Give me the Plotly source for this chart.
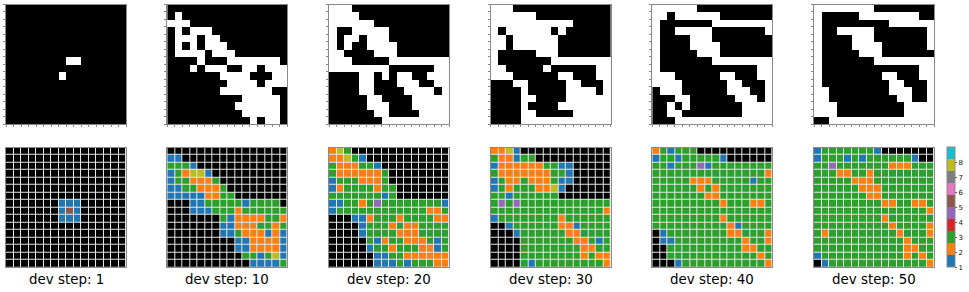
import plotly.graph_objects as go

W, H = 969, 292

steps = [1, 10, 20, 30, 40, 50]

# Binary states (top row): '#' = alive, '.' = dead
mask_1 = ["................"] * 7 + ["........##......", "................", ".......#........"] + ["................"] * 6
mask_10 = ["................", ".#..............", "###.............", ".#.###..........",
           ".###.##.........", ".#.#.###........", ".####.###.......", "....#...#######.",
           "...#.###..##.###", ".......####...##", "........####.###", ".......#######..",
           "..........#####.", ".........######.", "..........#####.", "...........#.##."]
mask_20 = ["###.............", "####............", "######..........", "#..#####........",
           "#.##.###........", "#.#..####.......", "##....###.......", "###.....########",
           "########......##", "....##.#.##..###", "....##...###..##", "....##....####.#",
           ".....##....#####", ".....###...#####", "......##....####", ".......#########"]
mask_30 = ["###.............", "######..........", "###########.....", "#.######.#......",
           "##.######.......", "##.######.......", "#.....###.......", "#.......########",
           "##.....#......##", "###......##...##", "...##.....##...#", "....#.....####.#",
           "....##....######", "....#....#######", "....##.....#####", "....############"]
mask_40 = ["######..........", "##.######.......", "#.......########", "#..#####.......#",
           "#....###........", "#....####.......", "#.....###.......", "#.......########",
           "#.............##", "###......##...##", "####......##...#", ".###......###..#",
           "...##......###.#", "..#.#.......####", "..##........####", "...#############"]
mask_50 = ["########........", "#.....########..", "#.........######", "#..#####.......#",
           "#....###.......#", "#....####......#", "#.....###.......", "#.......########",
           "#.............##", "#........##...##", "#.........##...#", "##........###..#",
           "##.........##..#", "###.........####", "###.........####", "..##############"]

# Cell states (bottom row): '.' = empty, digit = state, 'p' = the purple band
state_1 = ["................"] * 7 + [".......111......", ".......151......", ".......111......"] + ["................"] * 6
state_10 = ["................", "11..............", "3331............", "132881..........",
            "1332223.........", "11332223........", "111112233.......", "...113333313333.",
            "...1113332333333", ".......312222332", ".......112223323", ".......113222121",
            ".........1122221", ".........1122221", "..........331381", "...........11113"]
state_20 = ["283.............", "22831...........", "3222331.........", "32222223........",
            "13332223........", "123333233.......", "333333313.......", "113323p333333331",
            "1333333333333223", "...1123332333322", "....133323223333", "....133332223333",
            ".....31233222313", ".....13323332213", "......1133222222", "......1113133322"]
state_30 = ["2281............", "322133..........", "12222223311.....", "32222222331.....",
            "13223222311.....", "1323332281......", "331333333.......", "3p3p333333333333",
            "3333333333333332", "1333333332333333", "..13333332213333", "...1333333223333",
            "....333333322313", "....333333332233", "....333333332322", "....313333333332"]
state_40 = ["231333..........", "1331333331......", "331333p133333333", "3333333333333332",
            "3333322233333133", "3333332323333333", "3333333223333333", "3333333332333223",
            "3333333333333333", "3333333332333333", "3333333333213333", ".133333333223332",
            ".113333333332332", "..33333333332233", "..33333333333323", "...1333333333332"]
state_50 = ["133333331.......", "13331313333331..", "33p3333333222333", "3332233233333333",
            "3333322233333333", "3333332223333333", "3333333223333333", "3333333332233223",
            "3333333333333332", "3333333332333333", "3333333333233332", "3233333333323332",
            "3333333333332333", "3333333333332233", "1333333333332323", ".133333333333332"]

masks = [mask_1, mask_10, mask_20, mask_30, mask_40, mask_50]
states = [state_1, state_10, state_20, state_30, state_40, state_50]
state_value = {"1": 1, "2": 2, "3": 3, "5": 5, "8": 8, "p": 4.5}

tab10 = ["#1f77b4", "#ff7f0e", "#2ca02c", "#d62728", "#9467bd",
         "#8c564b", "#e377c2", "#7f7f7f", "#bcbd22", "#17becf"]
discrete = []
for i, c in enumerate(tab10):
    discrete += [[i / 10, c], [(i + 1) / 10, c]]

panel_left = [6.0, 167.3, 329.0, 490.7, 652.3, 814.0]
panel_w = 120.0
top_y = (4.5, 124.3)
bot_y = (147.7, 267.4)
spine = "#8a8a8a"

fig = go.Figure()
layout = {}
n = 16
cells = list(range(n))


def add_axes(idx, left, ypx, ticks):
    xa = dict(domain=[left / W, (left + panel_w) / W], range=[-0.5, 15.5], showgrid=False, zeroline=False,
              showticklabels=False, showline=True, linecolor=spine, linewidth=1, mirror=True,
              ticks="outside" if ticks else "", ticklen=2, tickcolor=spine, tickwidth=1,
              tickmode="array", tickvals=[c - 0.5 for c in range(n + 1)], anchor=f"y{idx}")
    ya = dict(domain=[1 - ypx[1] / H, 1 - ypx[0] / H], range=[15.5, -0.5], showgrid=False, zeroline=False,
              showticklabels=False, showline=True, linecolor=spine, linewidth=1, mirror=True,
              ticks="outside" if ticks else "", ticklen=2, tickcolor=spine, tickwidth=1,
              tickmode="array", tickvals=[c - 0.5 for c in range(n + 1)], anchor=f"x{idx}")
    layout[f"xaxis{idx}"] = xa
    layout[f"yaxis{idx}"] = ya


for p in range(6):
    assert all(len(r) == n for r in masks[p]) and len(masks[p]) == n
    assert all(len(r) == n for r in states[p]) and len(states[p]) == n
    ti, bi = 2 * p + 1, 2 * p + 2
    add_axes(ti, panel_left[p], top_y, True)
    add_axes(bi, panel_left[p], bot_y, False)

    fig.add_trace(go.Heatmap(z=[[1 if ch == "#" else 0 for ch in r] for r in masks[p]], x=cells, y=cells,
                             zmin=0, zmax=1, colorscale=[[0, "#000000"], [1, "#ffffff"]],
                             showscale=False, xaxis=f"x{ti}", yaxis=f"y{ti}", hoverinfo="skip"))
    # empty cells in black
    fig.add_trace(go.Heatmap(z=[[1 if ch == "." else None for ch in r] for r in states[p]], x=cells, y=cells,
                             zmin=0, zmax=1, colorscale=[[0, "#000000"], [1, "#000000"]],
                             showscale=False, xgap=1, ygap=1, xaxis=f"x{bi}", yaxis=f"y{bi}", hoverinfo="skip"))
    # coloured cells
    show = p == 5
    fig.add_trace(go.Heatmap(z=[[state_value.get(ch) for ch in r] for r in states[p]], x=cells, y=cells,
                             zmin=1, zmax=9, colorscale=discrete, showscale=show, xgap=1, ygap=1,
                             xaxis=f"x{bi}", yaxis=f"y{bi}",
                             colorbar=dict(x=947.3 / W, xanchor="left", xpad=0, y=1 - bot_y[1] / H, yanchor="bottom",
                                           ypad=0, len=(bot_y[1] - bot_y[0]) / H, lenmode="fraction",
                                           thickness=8, thicknessmode="pixels", outlinecolor=spine, outlinewidth=1,
                                           tickmode="array", tickvals=list(range(1, 9)), ticks="outside", ticklen=2,
                                           tickcolor="#555555", tickwidth=1,
                                           tickfont=dict(family="DejaVu Sans", size=7, color="#111111"))))

annotations = [dict(text=f"dev step: {s}", x=(panel_left[i] + panel_w / 2) / W, y=1 - 279.5 / H,
                    xref="paper", yref="paper", xanchor="center", yanchor="middle", showarrow=False,
                    font=dict(family="DejaVu Sans", size=13.4, color="#000000"))
               for i, s in enumerate(steps)]

fig.update_layout(width=W, height=H, margin=dict(l=0, r=0, t=0, b=0), paper_bgcolor="#ffffff",
                  plot_bgcolor="#e6e6e6", annotations=annotations, showlegend=False, **layout)

fig.write_html("out.html", config={"displayModeBar": False},
               post_script="document.body.style.margin='0';document.body.style.overflow='hidden';")
